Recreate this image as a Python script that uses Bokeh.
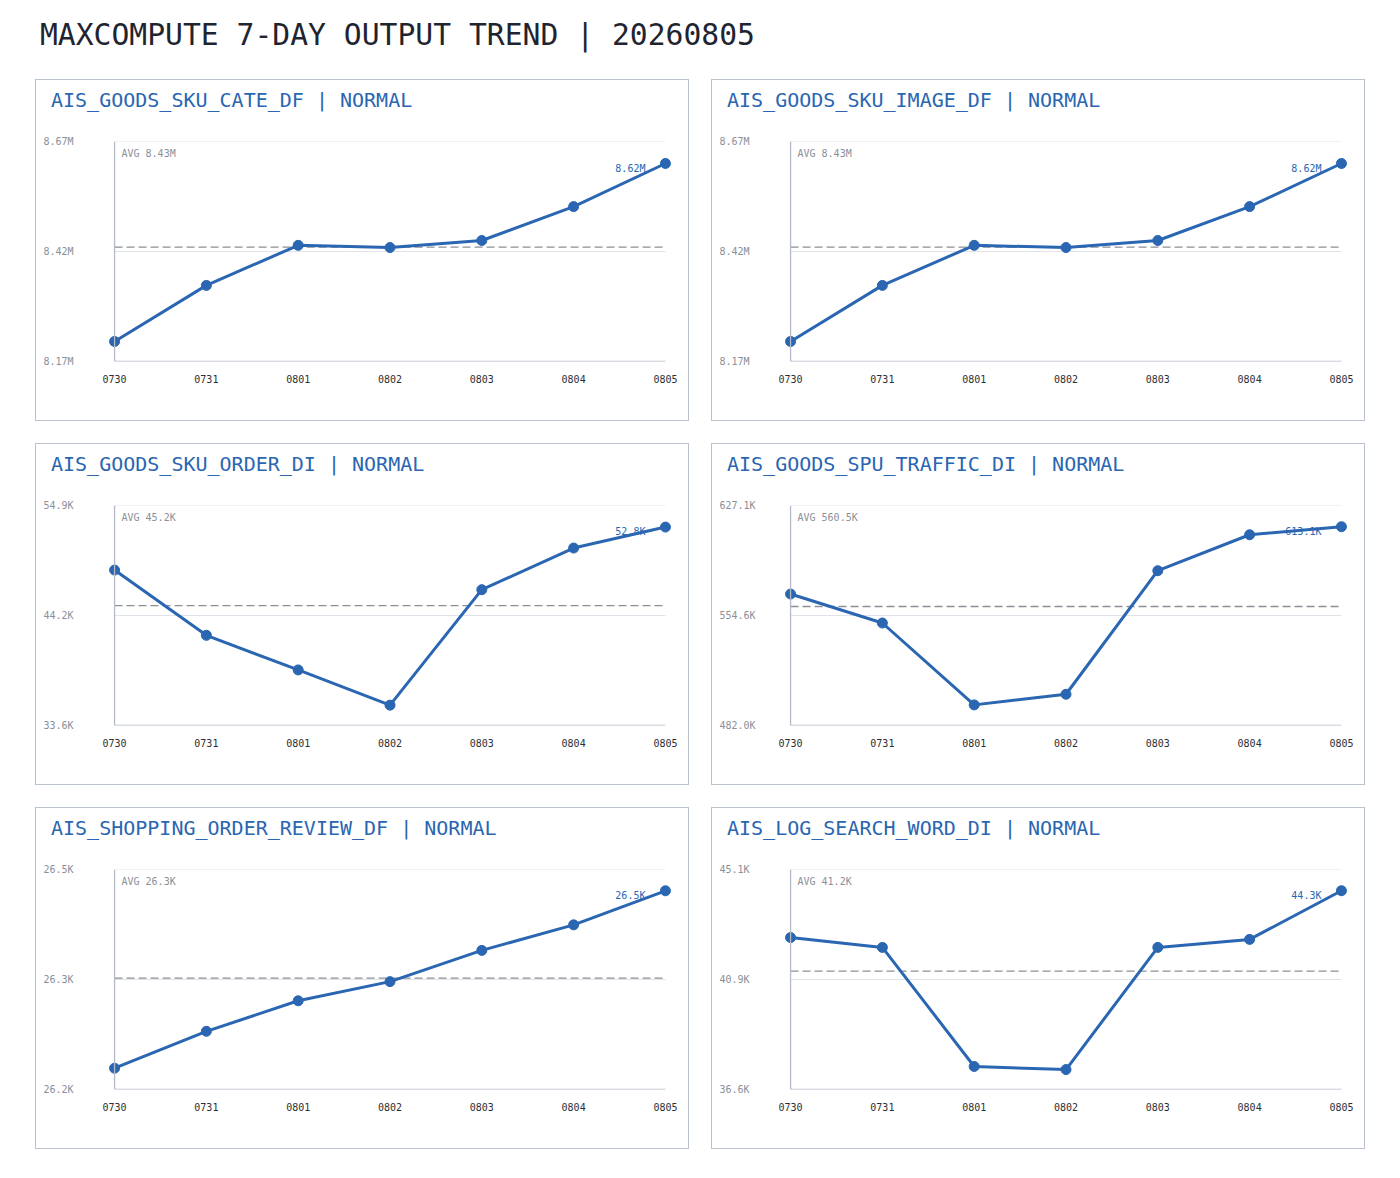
from bokeh.plotting import figure
from bokeh.layouts import column, row
from bokeh.models import Div, Spacer, Range1d, FixedTicker, Span, Label
from bokeh.core.properties import value
from bokeh.embed import file_html
from bokeh.resources import INLINE

# ---- data ----
dates = ["0730", "0731", "0801", "0802", "0803", "0804", "0805"]
tables = ["AIS_GOODS_SKU_CATE_DF", "AIS_GOODS_SKU_IMAGE_DF", "AIS_GOODS_SKU_ORDER_DI",
          "AIS_GOODS_SPU_TRAFFIC_DI", "AIS_SHOPPING_ORDER_REVIEW_DF", "AIS_LOG_SEARCH_WORD_DI"]
status = ["NORMAL", "NORMAL", "NORMAL", "NORMAL", "NORMAL", "NORMAL"]
units = ["M", "M", "K", "K", "K", "K"]

cate_df = [8.2155, 8.343, 8.434, 8.429, 8.445, 8.522, 8.620]
image_df = [8.2155, 8.343, 8.434, 8.429, 8.445, 8.522, 8.620]
order_di = [48.65, 42.33, 38.98, 35.57, 46.75, 50.78, 52.81]
traffic_di = [568.7, 549.6, 495.6, 502.6, 584.1, 607.8, 613.1]
review_df = [26.210, 26.262, 26.305, 26.332, 26.376, 26.412, 26.460]
search_di = [42.47, 42.09, 37.49, 37.37, 42.09, 42.40, 44.28]
series = [cate_df, image_df, order_di, traffic_di, review_df, search_di]

avg_vals = [8.43, 8.43, 45.2, 560.5, 26.337, 41.17]
y_lo = [8.17, 8.17, 33.6, 482.0, 26.18, 36.6]
y_hi = [8.67, 8.67, 54.9, 627.1, 26.49, 45.1]
y_tick_labels = [["8.17M", "8.42M", "8.67M"], ["8.17M", "8.42M", "8.67M"],
                 ["33.6K", "44.2K", "54.9K"], ["482.0K", "554.6K", "627.1K"],
                 ["26.2K", "26.3K", "26.5K"], ["36.6K", "40.9K", "45.1K"]]

FONT = "DejaVu Sans Mono"
BLUE = "#2a66b1"
GRAY_TXT = "#8a8f99"
AXIS = "#b3bac6"
GRID = "#e0e3ea"
PAD = 0.066   # a little room so end markers are not clipped


def fmt(v, u):
    return f"{v:.2f}M" if u == "M" else f"{v:.1f}K"


def make_panel(i):
    lo, hi = y_lo[i], y_hi[i]
    mid = (lo + hi) / 2
    u = units[i]
    n = len(dates) - 1
    p = figure(width=652, height=300, x_range=Range1d(-PAD, n + PAD), y_range=Range1d(lo, hi),
               toolbar_location=None, tools="", output_backend="svg",
               min_border_left=72, min_border_right=17, min_border_top=21, min_border_bottom=59,
               background_fill_color="white", border_fill_color="white")
    p.outline_line_color = None
    p.title.visible = False

    # axes
    p.xaxis.ticker = FixedTicker(ticks=list(range(len(dates))))
    p.xaxis.major_label_overrides = {k: d for k, d in enumerate(dates)}
    p.yaxis.ticker = FixedTicker(ticks=[lo, mid, hi])
    p.yaxis.major_label_overrides = dict(zip([lo, mid, hi], y_tick_labels[i]))
    for ax in (p.xaxis, p.yaxis):
        ax.axis_line_color = None
        ax.major_tick_line_color = None
        ax.minor_tick_line_color = None
        ax.major_tick_out = 0
        ax.major_tick_in = 0
        ax.major_label_text_font = FONT
        ax.major_label_text_font_size = "10px"
    p.xaxis.major_label_text_color = "#2b2f36"
    p.xaxis.major_label_standoff = 13
    p.yaxis.major_label_text_color = GRAY_TXT
    p.yaxis.major_label_standoff = int(round(65 - len(y_tick_labels[i][0]) * 6.02))
    p.grid.grid_line_color = None

    # horizontal guide lines between first and last day
    p.segment(x0=[0, 0], x1=[n, n], y0=[mid, hi], y1=[mid, hi], line_color=GRID, line_width=1.2)
    p.segment(x0=[0], x1=[n], y0=[lo], y1=[lo], line_color=AXIS, line_width=1.3)
    p.add_layout(Span(location=0, dimension="height", line_color=AXIS, line_width=1.3))

    # average line
    p.segment(x0=[0], x1=[n], y0=[avg_vals[i]], y1=[avg_vals[i]], line_color="#8c8f96",
              line_width=1.3, line_dash="8 4")

    # last value label (under the line)
    ys = series[i]
    p.text(x=[n], y=[ys[-1]], text=[fmt(ys[-1], u)], x_offset=-20, y_offset=-1,
           text_align="right", text_baseline="top", text_font=value(FONT),
           text_font_size="10px", text_color=BLUE)

    xs = list(range(len(dates)))
    p.line(xs, ys, line_width=3, line_color=BLUE)
    p.scatter(xs, ys, size=10, fill_color=BLUE, line_color=BLUE)

    p.add_layout(Label(x=13, y=208, x_units="screen", y_units="screen",
                       text=f"AVG {fmt(avg_vals[i], u)}", text_font=FONT,
                       text_font_size="10px", text_color=GRAY_TXT, text_baseline="middle"))

    head = Div(text=(f'<div style="padding:8px 0 0 15px;font-family:\'{FONT}\';font-size:20px;'
                     f'line-height:24px;color:{BLUE};white-space:nowrap;">'
                     f'{tables[i]} | {status[i]}</div>'),
               width=652, height=40, margin=0)
    return column(head, p, spacing=0, styles={"box-shadow": "0 0 0 1px #b9c1cd",
                                              "background": "white"})


panels = [make_panel(i) for i in range(len(tables))]

title = Div(text=('<div style="padding:13px 0 0 35px;font-family:\'DejaVu Sans Mono\';'
                  'font-size:29.7px;line-height:34px;color:#1f2530;white-space:nowrap;">'
                  'MAXCOMPUTE 7-DAY OUTPUT TREND | 20260805</div>'),
            width=1380, height=46)

rows = [row(Spacer(width=12), panels[k], panels[k + 1], spacing=24) for k in (0, 2, 4)]
layout = column(title, *rows, spacing=24)

open("out.html", "w").write(file_html(layout, INLINE))
